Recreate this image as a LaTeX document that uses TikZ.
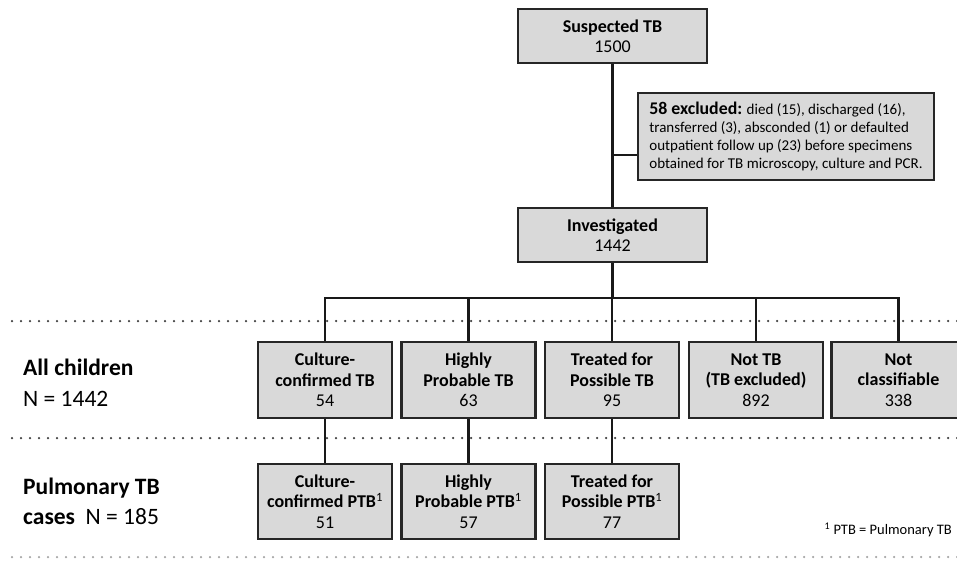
\documentclass[tikz,border=0pt]{standalone}
\usepackage{fontspec}
\setmainfont{Carlito}
\begin{document}
\begin{tikzpicture}[x=1pt,y=-1pt,
  box/.style={draw=black!85,line width=2.3pt,fill=black!15,inner sep=2pt,align=center,
    font=\fontsize{18}{20.5}\selectfont},
  wbox/.style={box,minimum width=189pt,minimum height=54pt},
  cbox/.style={box,minimum width=134pt,minimum height=76pt},
  pbox/.style={box,minimum width=134pt,minimum height=75pt},
  conn/.style={line width=2.3pt,black!90},
  dotline/.style={line width=2.5pt,black!75,line cap=round,dash pattern=on 0pt off 9pt},
  lab/.style={anchor=west,inner sep=0pt,font=\fontsize{23.5}{28}\selectfont}]
\useasboundingbox (0,0) rectangle (957,562);
\clip (0,0) rectangle (957,562);

% dotted separators
\coordinate (d1a) at (12,321); \coordinate (d1b) at (960,321);
\coordinate (d2a) at (12,438); \coordinate (d2b) at (960,438);
\coordinate (d3a) at (12,557); \coordinate (d3b) at (960,557);
\draw[dotline] (d1a) -- (d1b);
\draw[dotline] (d2a) -- (d2b);
\draw[dotline,black!35] (d3a) -- (d3b);

% top boxes
\node[wbox] (sus) at (612.5,36) {\textbf{Suspected TB}\\1500};
\node[wbox] (inv) at (612.5,235) {\textbf{Investigated}\\1442};
\node[box,minimum width=296pt,minimum height=87pt,align=left,
  font=\fontsize{15}{17.7}\selectfont] (exc) at (786,136.5)
  {{\fontsize{17.8}{17.7}\selectfont\textbf{58 excluded:}} died (15), discharged (16),\\
   transferred (3), absconded (1) or defaulted\\
   outpatient follow up (23) before specimens\\
   obtained for TB microscopy, culture and PCR.};

% level 2
\node[cbox] (c1) at (325,380) {\textbf{Culture-}\\\textbf{confirmed TB}\\54};
\node[cbox] (c2) at (468.5,380) {\textbf{Highly}\\\textbf{Probable TB}\\63};
\node[cbox] (c3) at (612,380) {\textbf{Treated for}\\\textbf{Possible TB}\\95};
\node[cbox] (c4) at (756,380) {\textbf{Not TB}\\\textbf{(TB excluded)}\\892};
\node[cbox] (c5) at (898.5,380) {\textbf{Not}\\\textbf{classifiable}\\338};

% level 3
\node[pbox] (p1) at (325,501.5) {\textbf{Culture-}\\\textbf{confirmed PTB}\textsuperscript{1}\\51};
\node[pbox] (p2) at (468.5,501.5) {\textbf{Highly}\\\textbf{Probable PTB}\textsuperscript{1}\\57};
\node[pbox] (p3) at (612,501.5) {\textbf{Treated for}\\\textbf{Possible PTB}\textsuperscript{1}\\77};

% connectors
\draw[conn] (sus.south) -- (inv.north);
\draw[conn] (sus.south |- exc.west) ++(0,18.5) coordinate (ej) -- (ej -| exc.west);
\coordinate (bar) at (612.5,298);
\draw[conn] (inv.south) -- (bar);
\draw[conn] (c1.north) |- (bar) -| (c5.north);
\draw[conn] (c2.north) -- (c2.north |- bar);
\draw[conn] (c3.north) -- (c3.north |- bar);
\draw[conn] (c4.north) -- (c4.north |- bar);
\draw[conn] (c1.south) -- (p1.north);
\draw[conn] (c2.south) -- (p2.north);
\draw[conn] (c3.south) -- (p3.north);

% side labels
\node[lab] (l1) at (23,367) {\textbf{All children}};
\node[lab] (l2) at (23,399) {N = 1442};
\node[lab] (l3) at (23,488) {\textbf{Pulmonary TB}};
\node[lab] (l4) at (23,517) {\textbf{cases}\ \ N = 185};

\node[anchor=east,inner sep=0pt,font=\fontsize{14.5}{17}\selectfont] (fn) at (952,530)
  {\textsuperscript{1} PTB = Pulmonary TB};
\end{tikzpicture}
\end{document}
